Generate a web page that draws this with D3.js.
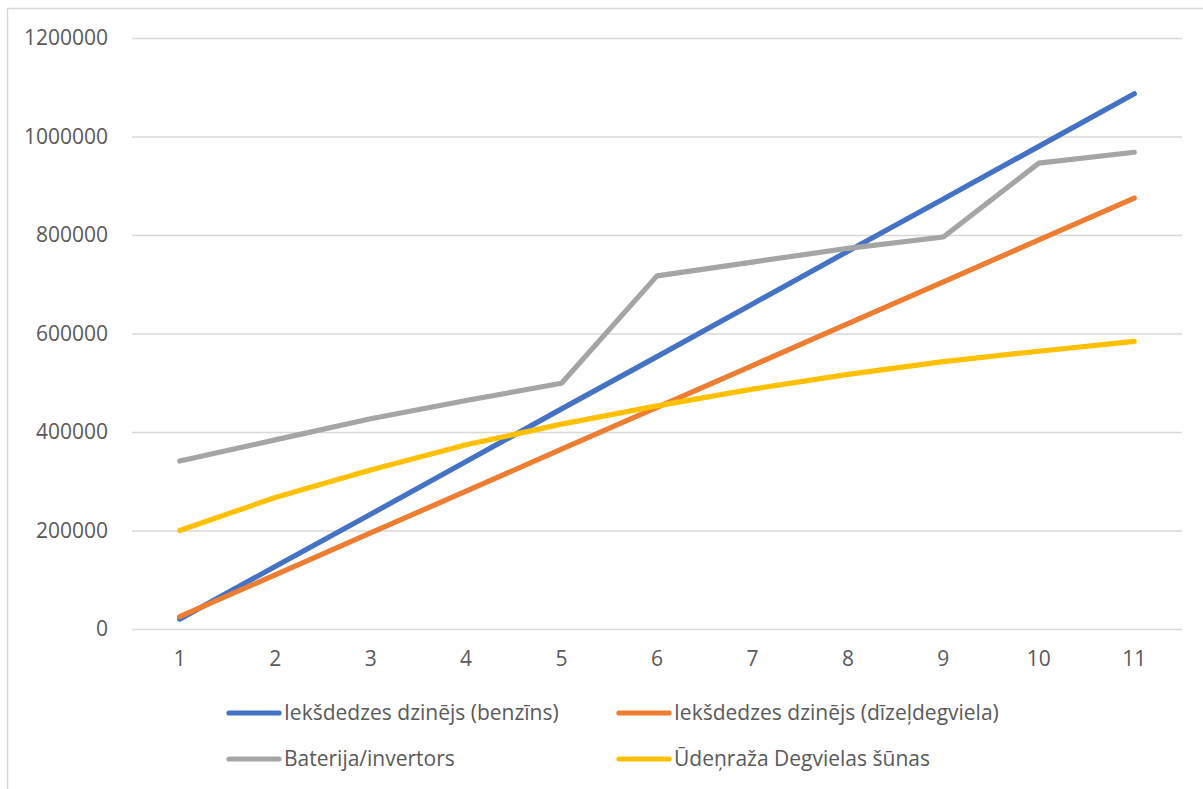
<!DOCTYPE html>
<html>
<head>
<meta charset="utf-8">
<script src="https://cdn.jsdelivr.net/npm/d3@7"></script>
<style>
  html, body { margin: 0; padding: 0; background: #fff; }
  svg text { font-family: "Open Sans", "Noto Sans", sans-serif; fill: #595959; }
</style>
</head>
<body>
<svg id="chart" width="1203" height="789"></svg>
<script>
// Categories along the x axis
const categories = ["1", "2", "3", "4", "5", "6", "7", "8", "9", "10", "11"];

// Series values
const benzins   = [20000, 127000, 233000, 340000, 447000, 553000, 660000, 767000, 873000, 980000, 1087000];
const dizelis   = [25000, 110000, 195000, 280000, 365000, 450000, 535000, 620000, 705000, 790000, 875000];
const baterija  = [341000, 384000, 427000, 464000, 499000, 717000, 745000, 773000, 796000, 946000, 968000];
const udenradis = [200000, 267000, 323000, 374000, 416000, 453000, 487000, 517000, 543000, 564000, 584000];

// Y axis tick values
const yTicks = [0, 200000, 400000, 600000, 800000, 1000000, 1200000];

const seriesNames = [
  "Iekšdedzes dzinējs (benzīns)",
  "Iekšdedzes dzinējs (dīzeļdegviela)",
  "Baterija/invertors",
  "Ūdeņraža Degvielas šūnas"
];
const seriesColors = ["#4472C4", "#ED7D31", "#A5A5A5", "#FFC000"];
const seriesValues = [benzins, dizelis, baterija, udenradis];

const svg = d3.select("#chart");

// Chart frame
svg.append("rect")
  .attr("x", 7.5).attr("y", 8.5)
  .attr("width", 1400).attr("height", 1000)
  .attr("fill", "none").attr("stroke", "#D9D9D9").attr("stroke-width", 1.5);

const plot = { left: 132, right: 1182, top: 38, bottom: 629 };

const x = d3.scaleBand().domain(categories).range([plot.left, plot.right]);
const xc = d => x(d) + x.bandwidth() / 2;
const y = d3.scaleLinear().domain([0, 1200000]).range([plot.bottom, plot.top]);

// Horizontal gridlines and y labels via axis
const yAxis = d3.axisLeft(y).tickValues(yTicks).tickSize(-(plot.right - plot.left)).tickPadding(24)
  .tickFormat(d3.format("d"));
const gy = svg.append("g").attr("transform", `translate(${plot.left},0)`).call(yAxis);
gy.select(".domain").remove();
gy.selectAll(".tick line").attr("stroke", "#D9D9D9").attr("stroke-width", 1.3);
gy.selectAll(".tick text").attr("font-size", 21).attr("fill", "#595959")
  .style("font-family", "'Open Sans', sans-serif");

// X axis labels
const xAxis = d3.axisBottom(x).tickSize(0).tickPadding(22);
const gx = svg.append("g").attr("transform", `translate(0,${plot.bottom})`).call(xAxis);
gx.select(".domain").remove();
gx.selectAll(".tick text").attr("font-size", 21).attr("fill", "#595959")
  .style("font-family", "'Open Sans', sans-serif");

// Lines
const line = d3.line()
  .x((d, i) => xc(categories[i]))
  .y(d => y(d));

seriesValues.forEach((vals, k) => {
  svg.append("path")
    .datum(vals)
    .attr("d", line)
    .attr("fill", "none")
    .attr("stroke", seriesColors[k])
    .attr("stroke-width", 5.2)
    .attr("stroke-linecap", "round")
    .attr("stroke-linejoin", "round");
});

// Legend
const legendPos = [
  { sx: 229, ty: 713 },
  { sx: 619, ty: 713 },
  { sx: 229, ty: 759 },
  { sx: 619, ty: 759 }
];
seriesNames.forEach((name, k) => {
  const p = legendPos[k];
  const g = svg.append("g");
  g.append("line")
    .attr("x1", p.sx).attr("x2", p.sx + 50)
    .attr("y1", p.ty).attr("y2", p.ty)
    .attr("stroke", seriesColors[k]).attr("stroke-width", 5.2)
    .attr("stroke-linecap", "round");
  g.append("text")
    .attr("x", p.sx + 55).attr("y", p.ty)
    .attr("dy", "0.35em")
    .attr("font-size", 21)
    .text(name);
});
</script>
</body>
</html>
